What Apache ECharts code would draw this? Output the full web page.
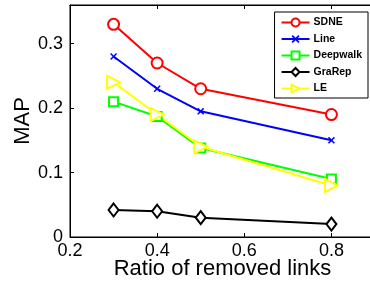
<!DOCTYPE html>
<html>
<head>
<meta charset="utf-8">
<script src="https://cdn.jsdelivr.net/npm/echarts@6/dist/echarts.min.js"></script>
<style>
  html, body { margin: 0; padding: 0; background: #fff; }
  #chart { width: 370px; height: 283px; }
</style>
</head>
<body>
<div id="chart"></div>
<script>
const ratios = [0.3, 0.4, 0.5, 0.8];
const sdne = [0.33, 0.27, 0.23, 0.19];
const line = [0.28, 0.23, 0.195, 0.15];
const deepwalk = [0.21, 0.187, 0.138, 0.09];
const grarep = [0.042, 0.04, 0.03, 0.02];
const le = [0.24, 0.19, 0.14, 0.08];

const pairs = (ys) => ratios.map((x, i) => [x, ys[i]]);

const font = "Liberation Sans, Arial, Helvetica, sans-serif";
const crossPath = "path://M0,1.5L1.5,0L5,3.5L8.5,0L10,1.5L6.5,5L10,8.5L8.5,10L5,6.5L1.5,10L0,8.5L3.5,5Z";

const mk = (name, ys, color, symbol, size, extra) =>
  Object.assign(
    {
      name: name,
      type: "line",
      data: pairs(ys),
      symbol: symbol,
      symbolSize: size,
      showAllSymbol: true,
      lineStyle: { color: color, width: 2 },
      itemStyle: { color: color, borderColor: color, borderWidth: 2 },
      emphasis: { disabled: true },
    },
    extra || {}
  );

const option = {
  animation: false,
  backgroundColor: "#fff",
  grid: {
    left: 70,
    top: 5,
    right: -5,
    bottom: 46,
    outerBoundsMode: "none",
    containLabel: false,
    show: true,
    borderColor: "#000",
    borderWidth: 1,
  },
  legend: {
    orient: "vertical",
    right: 2,
    top: 12,
    padding: [5, 6, 4, 6],
    itemWidth: 28,
    itemHeight: 10,
    itemGap: 5.5,
    backgroundColor: "#fff",
    borderColor: "#000",
    borderWidth: 1,
    borderRadius: 0,
    textStyle: { fontFamily: font, fontSize: 10.5, fontWeight: "bold", color: "#000", padding: [0, 0, 0, -1] },
    data: ["SDNE", "Line", "Deepwalk", "GraRep", "LE"],
  },
  xAxis: [
    {
      type: "value",
      min: 0.2,
      max: 0.9,
      interval: 0.2,
      name: "Ratio of removed links",
      nameLocation: "middle",
      nameGap: 21,
      nameMoveOverlap: false,
      nameTextStyle: { fontFamily: font, fontSize: 22, color: "#000" },
      axisLine: { lineStyle: { color: "#000", width: 1 } },
      axisTick: { inside: true, length: 4, lineStyle: { color: "#000" } },
      axisLabel: { fontFamily: font, fontSize: 18, color: "#000", margin: 5, showMaxLabel: false },
      splitLine: { show: false },
    },
    {
      type: "value",
      position: "top",
      min: 0.2,
      max: 0.9,
      interval: 0.2,
      axisLine: { lineStyle: { color: "#000", width: 1 } },
      axisTick: { inside: true, length: 4, lineStyle: { color: "#000" } },
      axisLabel: { show: false },
      splitLine: { show: false },
    },
  ],
  yAxis: {
    type: "value",
    min: 0,
    max: 0.36,
    interval: 0.1,
    name: "MAP",
    nameLocation: "middle",
    nameGap: 36,
    nameMoveOverlap: false,
    nameTextStyle: { fontFamily: font, fontSize: 22, color: "#000" },
    axisLine: { show: true, lineStyle: { color: "#000", width: 1 } },
    axisTick: { show: true, inside: true, length: 4, lineStyle: { color: "#000" } },
    axisLabel: { fontFamily: font, fontSize: 18, color: "#000", margin: 7, showMaxLabel: false },
    splitLine: { show: false },
  },
  series: [
    mk("SDNE", sdne, "#ff0000", "emptyCircle", 11),
    mk("Line", line, "#0000ff", crossPath, 7, { itemStyle: { color: "#0000ff", borderWidth: 0 } }),
    mk("Deepwalk", deepwalk, "#00ff00", "emptyRect", 9),
    mk("GraRep", grarep, "#000000", "emptyDiamond", [10, 13]),
    mk("LE", le, "#ffff00", "emptyTriangle", 13, { symbolRotate: -90 }),
  ],
};

const chart = echarts.init(document.getElementById("chart"), null, { renderer: "canvas" });
chart.setOption(option);
</script>
</body>
</html>
